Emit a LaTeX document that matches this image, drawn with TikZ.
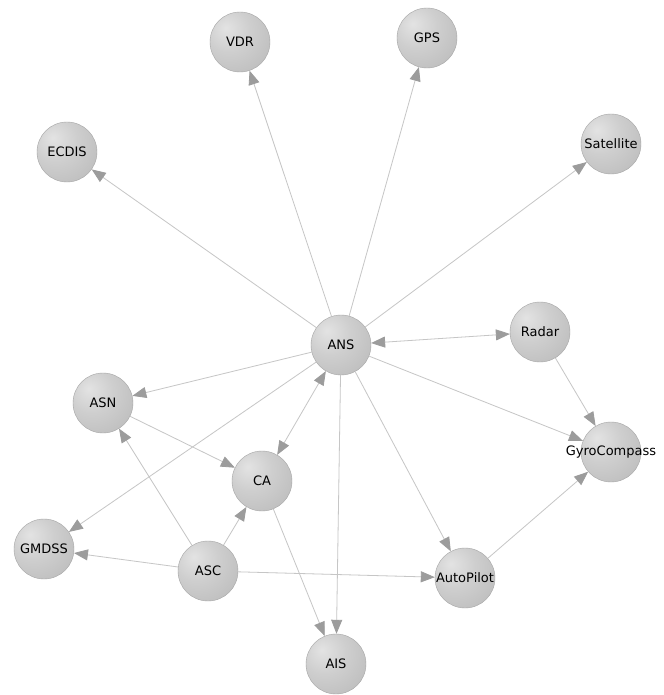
\documentclass[tikz,border=0pt]{standalone}
\usepackage{fontspec}
\setmainfont{DejaVu Sans}
\usetikzlibrary{arrows.meta}
% grey sphere, lit from the upper left
\pgfdeclareradialshading{sphere}{\pgfpoint{-12bp}{12bp}}{%
  color(0bp)=(gray!22); color(18bp)=(gray!38); color(40bp)=(gray!52);
  color(58bp)=(gray!72); color(100bp)=(gray!72)}
% a label that may overhang its sphere without enlarging it
\newcommand\devname[1]{\makebox[0pt][c]{#1}}
\begin{document}
\begin{tikzpicture}[x=1pt,y=-1pt,
  device/.style={circle, minimum size=60pt, inner sep=0pt, shading=sphere,
    draw=gray!70, line width=0.4pt,
    font=\fontsize{13}{15}\selectfont, text=black},
  tip/.tip={Triangle[length=14pt,width=11pt,color=gray!78,fill=gray!78]},
  link/.style={draw=gray!45, line width=0.8pt, -tip},
  duallink/.style={draw=gray!45, line width=0.8pt, tip-tip}]
\useasboundingbox[fill=white] (0,0) rectangle (663,695);

% devices
\node[device] (vdr) at (240,42) {\devname{VDR}};
\node[device] (gps) at (427,38) {\devname{GPS}};
\node[device] (ecdis) at (67,152) {\devname{ECDIS}};
\node[device] (sat) at (611,144) {\devname{Satellite}};
\node[device] (ans) at (341,345) {\devname{ANS}};
\node[device] (radar) at (540,332) {\devname{Radar}};
\node[device] (asn) at (103,403) {\devname{ASN}};
\node[device] (ca) at (262,481) {\devname{CA}};
\node[device] (gyro) at (611,452) {\devname{GyroCompass}};
\node[device] (gmdss) at (44,549) {\devname{GMDSS}};
\node[device] (asc) at (208,571) {\devname{ASC}};
\node[device] (auto) at (465,578) {\devname{AutoPilot}};
\node[device] (ais) at (336,664) {\devname{AIS}};

% links
\draw[link] (ans) -- (vdr);
\draw[link] (ans) -- (gps);
\draw[link] (ans) -- (ecdis);
\draw[link] (ans) -- (sat);
\draw[duallink] (ans) -- (radar);
\draw[link] (ans) -- (asn);
\draw[duallink] (ans) -- (ca);
\draw[link] (ans) -- (gmdss);
\draw[link] (ans) -- (gyro);
\draw[link] (ans) -- (auto);
\draw[link] (ans) -- (ais);
\draw[link] (radar) -- (gyro);
\draw[link] (asn) -- (ca);
\draw[link] (asc) -- (asn);
\draw[link] (asc) -- (ca);
\draw[link] (asc) -- (gmdss);
\draw[link] (asc) -- (auto);
\draw[link] (ca) -- (ais);
\draw[link] (auto) -- (gyro);
\end{tikzpicture}
\end{document}
